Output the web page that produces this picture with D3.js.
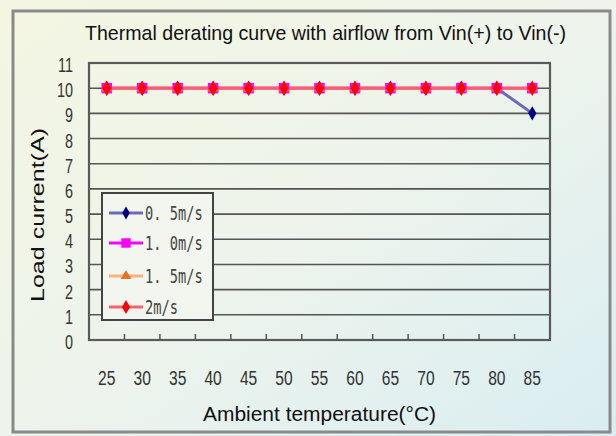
<!DOCTYPE html>
<html><head><meta charset="utf-8">
<script src="https://cdn.jsdelivr.net/npm/d3@7"></script>
<style>body{margin:0;padding:0;overflow:hidden}svg{display:block}</style>
</head><body>
<svg id="chart" width="616" height="436"></svg>
<script>
const categories = [25,30,35,40,45,50,55,60,65,70,75,80,85];
const s05 = [10,10,10,10,10,10,10,10,10,10,10,10,9];
const s10 = [10,10,10,10,10,10,10,10,10,10,10,10,10];
const s15 = [10,10,10,10,10,10,10,10,10,10,10,10,10];
const s20 = [10,10,10,10,10,10,10,10,10,10,10,10,10];
const seriesNames = ["0. 5m/s","1. 0m/s","1. 5m/s","2m/s"];
const yTicks = [0,1,2,3,4,5,6,7,8,9,10,11];
const titleText = "Thermal derating curve with airflow from Vin(+) to Vin(-)";
const xTitle = "Ambient temperature(°C)";
const yTitle = "Load current(A)";

const series = [
  {name: seriesNames[0], values: s05, line: "#6a6ab8", color: "#000080", shape: d3.symbolDiamond, size: 60},
  {name: seriesNames[1], values: s10, line: "#ff00ff", color: "#ff00ff", shape: d3.symbolSquare, size: 110},
  {name: seriesNames[2], values: s15, line: "#ffb080", color: "#f07020", shape: d3.symbolTriangle, size: 60},
  {name: seriesNames[3], values: s20, line: "#ff6070", color: "#ff0000", shape: d3.symbolDiamond, size: 70}
];

const svg = d3.select("#chart");
const defs = svg.append("defs");
const grad = defs.append("linearGradient").attr("id","bg").attr("x1","0").attr("y1","0").attr("x2","1").attr("y2","1");
grad.append("stop").attr("offset","0%").attr("stop-color","#f4f6e2");
grad.append("stop").attr("offset","50%").attr("stop-color","#eef4ec");
grad.append("stop").attr("offset","100%").attr("stop-color","#d9edf2");
svg.append("rect").attr("width",616).attr("height",436).attr("fill","url(#bg)");
svg.append("rect").attr("x",13).attr("y",11).attr("width",597).attr("height",421)
  .attr("fill","none").attr("stroke","#8a8a8a").attr("stroke-width",3);

const L = 89, R = 550, T = 63, B = 340;
const x = d3.scaleBand().domain(categories).range([L,R]).padding(0);
const y = d3.scaleLinear().domain([0,11]).range([B,T]);

// gridlines
svg.append("g").selectAll("line").data(yTicks.filter(d=>d>0 && d<11)).join("line")
  .attr("x1",L).attr("x2",R).attr("y1",d=>y(d)).attr("y2",d=>y(d))
  .attr("stroke","#555").attr("stroke-width",1.6);

// plot border
svg.append("rect").attr("x",L).attr("y",y(11)).attr("width",R-L).attr("height",y(0)-y(11))
  .attr("fill","none").attr("stroke","#5a5a5a").attr("stroke-width",2.2);

// x ticks (between categories)
svg.append("g").selectAll("line").data(categories.slice(1)).join("line")
  .attr("x1",d=>x(d)).attr("x2",d=>x(d)).attr("y1",B).attr("y2",B-6)
  .attr("stroke","#555").attr("stroke-width",1.5);

// y tick labels
svg.append("g").selectAll("text").data(yTicks).join("text")
  .attr("transform",d=>`translate(73,${y(d)+9}) scale(0.72,1.05)`)
  .attr("text-anchor","end").attr("font-family","Liberation Sans, Arial, sans-serif")
  .attr("font-size",20).attr("fill","#333").text(d=>d);

// x tick labels
svg.append("g").selectAll("text").data(categories).join("text")
  .attr("transform",d=>`translate(${x(d)+x.bandwidth()/2},385) scale(0.78,1.05)`)
  .attr("text-anchor","middle").attr("font-family","Liberation Sans, Arial, sans-serif")
  .attr("font-size",20).attr("fill","#333").text(d=>d);

// title
svg.append("text").attr("x",85).attr("y",40).attr("font-family","Liberation Sans, Arial, sans-serif")
  .attr("font-size",21).attr("fill","#111").attr("textLength",481).attr("lengthAdjust","spacingAndGlyphs")
  .text(titleText);

// axis titles
svg.append("text").attr("x",203).attr("y",421).attr("font-family","Liberation Sans, Arial, sans-serif")
  .attr("font-size",20).attr("fill","#111").attr("textLength",233).attr("lengthAdjust","spacingAndGlyphs")
  .text(xTitle);
svg.append("text").attr("transform","translate(44,302) rotate(-90)").attr("font-family","Liberation Sans, Arial, sans-serif")
  .attr("font-size",19).attr("fill","#111").attr("textLength",174).attr("lengthAdjust","spacingAndGlyphs")
  .text(yTitle);

// series
const line = d3.line().x((d,i)=>x(categories[i])+x.bandwidth()/2).y(d=>y(d));
series.forEach(s=>{
  svg.append("path").datum(s.values).attr("d",line).attr("fill","none")
    .attr("stroke",s.line).attr("stroke-width",3);
});
series.forEach(s=>{
  svg.append("g").selectAll("path").data(s.values).join("path")
    .attr("transform",(d,i)=>`translate(${x(categories[i])+x.bandwidth()/2},${y(d)})`)
    .attr("d",d3.symbol().type(s.shape).size(s.size)).attr("fill",s.color);
});

// legend
const lg = svg.append("g");
lg.append("rect").attr("x",102).attr("y",193).attr("width",111).attr("height",127)
  .attr("fill","#f3f6ee").attr("stroke","#444").attr("stroke-width",2);
const ly = [213,243,276,307];
series.forEach((s,i)=>{
  lg.append("line").attr("x1",109).attr("x2",143).attr("y1",ly[i]).attr("y2",ly[i])
    .attr("stroke",s.line).attr("stroke-width",3);
  lg.append("path").attr("transform",`translate(126,${ly[i]})`)
    .attr("d",d3.symbol().type(s.shape).size(s.size*0.8)).attr("fill",s.color);
  lg.append("text").attr("transform",`translate(145,${ly[i]+7}) scale(0.76,1.05)`)
    .attr("font-family","DejaVu Sans Mono, monospace").attr("font-size",18).attr("fill","#444")
    .text(s.name);
});
</script>
</body></html>
